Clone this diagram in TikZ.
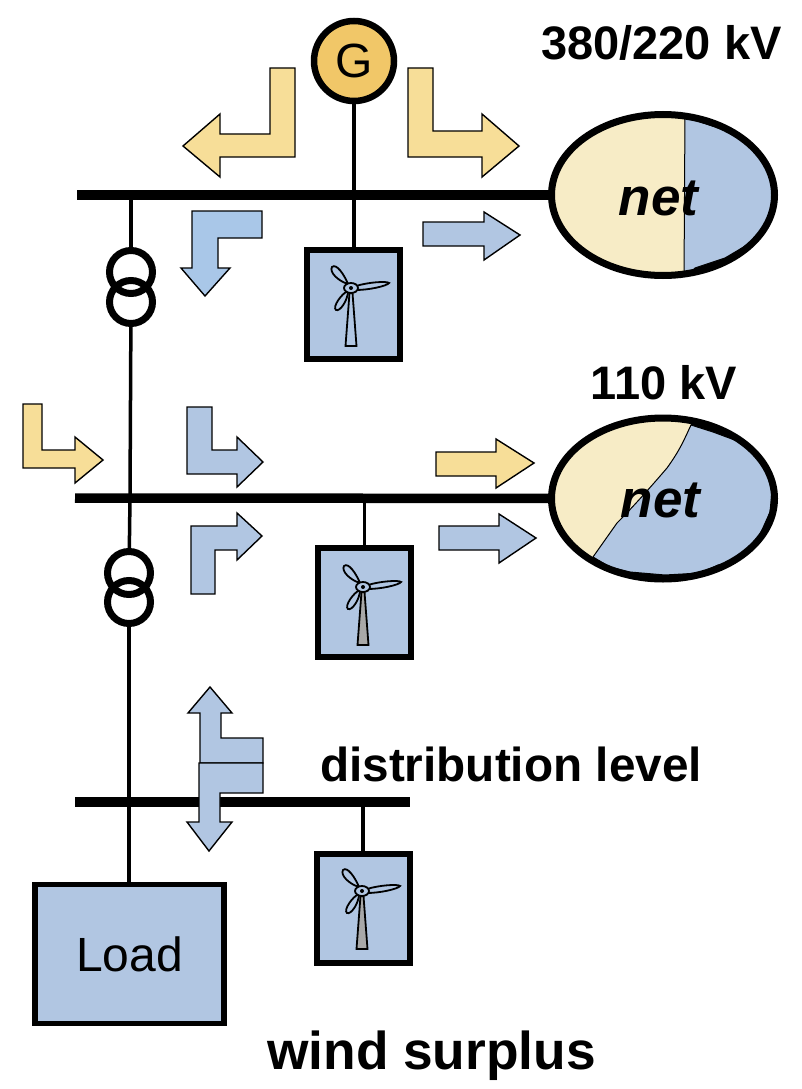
\documentclass[tikz,border=0pt]{standalone}
\usepackage{fontspec}
\setmainfont{Liberation Sans}
\usetikzlibrary{shapes.geometric}

\definecolor{netblue}{HTML}{B1C6E2}
\definecolor{skyblue}{HTML}{A9C7E8}
\definecolor{flowyellow}{HTML}{F7DE98}
\definecolor{netyellow}{HTML}{F7ECC6}
\definecolor{gengold}{HTML}{F1C768}
\definecolor{towergray}{HTML}{A8A8A8}

\tikzset{
 turbine/.pic={
  \draw[line width=1.8pt,fill=#1] (-5.5,58) -- (-1.5,5) -- (1.5,5) -- (5.5,58) -- cycle;
  \draw[line width=1.8pt] (-3,-4) .. controls (-13,-7) and (-22,-16) .. (-19,-21)
   .. controls (-15,-25) and (-7,-14) .. (-3,-4);
  \draw[line width=1.8pt] (5,-2) .. controls (18,-6) and (36,-7) .. (38,-5)
   .. controls (36,-2) and (18,2) .. (5,2) -- cycle;
  \draw[line width=1.8pt] (-3,3) .. controls (-9,5) and (-19,19) .. (-15,22)
   .. controls (-11,24) and (-3,12) .. (-3,3);
  \draw[line width=1.8pt,fill=netblue] (0,0) ellipse (7 and 5);
  \fill (0,0) circle (2);
 }
}

\begin{document}
\begin{tikzpicture}[
 x=1pt,y=-1pt,
 every node/.style={font=\fontsize{48pt}{48pt}\selectfont},
 bus/.style={line width=9.5pt},
 wire/.style={line width=3.5pt},
 flow/.style={draw=black,line width=1.4pt,line join=miter},
 title/.style={font=\fontsize{47pt}{47pt}\selectfont\bfseries,inner sep=0pt},
 netlabel/.style={font=\fontsize{53pt}{53pt}\selectfont\bfseries\itshape,inner sep=0pt},
 netshape/.style={draw,ellipse,line width=7pt,minimum width=223pt,minimum height=161pt,inner sep=0pt},
 windbox/.style={draw,fill=netblue,line width=6pt,minimum width=93pt,minimum height=109pt,inner sep=0pt},
 trafo/.style={draw,circle,line width=7pt,minimum size=43pt,inner sep=0pt}
]
 \useasboundingbox (0,0) rectangle (802,1089);

 % upper net, split almost in the middle
 \begin{scope}
  \clip (663,195) ellipse (111.5 and 80.5);
  \fill[netyellow] (540,100) rectangle (790,290);
  \fill[black] (685,110) -- (790,110) -- (790,280) -- (684,280) -- cycle;
  \draw[fill=netblue,line width=1pt]
   (685,110) -- (700,122) -- (740,135) -- (772,170) -- (772,225) -- (752,242)
   -- (725,258) -- (695,268) -- (684,280) -- cycle;
 \end{scope}

 % lower net, blue part is larger and has a rough edge
 \begin{scope}
  \clip (663,498.5) ellipse (111.5 and 80);
  \fill[netyellow] (540,400) rectangle (790,590);
  \fill[black] (691,425) -- (691,400) -- (790,400) -- (790,590) -- (590,590) -- (593,557) -- (617,523)
   .. controls (635,505) and (655,482) .. (667,468)
   .. controls (680,450) and (684,440) .. (691,425) -- cycle;
  \draw[fill=netblue,line width=1pt]
   (691,425) .. controls (684,440) and (680,450) .. (667,468)
   .. controls (655,482) and (635,505) .. (617,523) -- (593,557)
   -- (610,567) -- (630,572) -- (665,575) -- (700,573) -- (718,565)
   -- (735,561) -- (753,550) -- (770,512) -- (773,480) -- (757,457)
   -- (740,442) -- (713,432) -- cycle;
 \end{scope}

 \node[netshape] (netA) at (663,195) {};
 \node[netshape] (netB) at (663,498.5) {};
 \node[netlabel] (netAtext) at (658.5,198) {net};
 \node[netlabel] (netBtext) at (660.5,500) {net};

 \node[draw,circle,fill=gengold,line width=6.5pt,minimum size=80pt,inner sep=0pt] (genG) at (354,61) {G};

 \coordinate (busAwest) at (77,195);
 \coordinate (busBwest) at (75,498);
 \coordinate (busCwest) at (75,802);
 \coordinate (busCeast) at (410,802);
 \coordinate (tapA) at (131,195);
 \coordinate (tapB) at (130,498);
 \coordinate (tapC) at (129,802);

 \node[trafo] (trafoAup) at (131,272) {};
 \node[trafo] (trafoAlow) at (131,302) {};
 \node[trafo] (trafoBup) at (129,573) {};
 \node[trafo] (trafoBlow) at (129,602) {};

 \node[windbox] (windA) at (353,304) {};
 \node[windbox] (windB) at (364.5,602.5) {};
 \node[windbox] (windC) at (363,908) {};
 \pic at (351,288) {turbine=netblue};
 \pic at (363,587) {turbine=towergray};
 \pic at (362,891) {turbine=towergray};

 \node[draw,fill=netblue,line width=5.5pt,minimum width=189pt,minimum height=139pt,inner sep=0pt] (load) at (129.5,954) {\raisebox{-2pt}{Load}};

 \draw[bus] (busAwest) -- (netA);
 \draw[bus] (busBwest) -- (netB);
 \draw[bus] (busCwest) -- (busCeast);

 \draw[wire] (genG) -- (windA.north -| genG);
 \draw[wire] (tapA) -- (trafoAup);
 \draw[wire] (trafoAlow) -- (tapB);
 \draw[wire] (tapB) -- (trafoBup);
 \draw[wire] (trafoBlow) -- (tapC);
 \draw[wire] (tapC) -- (load.north -| tapC);
 \draw[wire] (windB.north) -- (windB.north |- busBwest);
 \draw[wire] (windC.north) -- (windC.north |- busCwest);

 % power flows
 \draw[flow,fill=flowyellow] (270,68) -- (295,68) -- (295,157) -- (220,157) -- (220,177)
  -- (183,146) -- (220,114) -- (220,134) -- (270,134) -- cycle;
 \draw[flow,fill=flowyellow] (408,68) -- (433,68) -- (433,131) -- (482,131) -- (482,114)
  -- (519,146) -- (482,177) -- (482,157) -- (408,157) -- cycle;
 \draw[flow,fill=skyblue] (262,211) -- (262,238) -- (218,238) -- (218,268) -- (230,268)
  -- (205,296) -- (181,268) -- (192,268) -- (192,211) -- cycle;
 \draw[flow,fill=netblue] (423,222) -- (484,222) -- (484,212) -- (520,235) -- (484,260)
  -- (484,246) -- (423,246) -- cycle;

 \draw[flow,fill=flowyellow] (23,404) -- (42,404) -- (42,450) -- (75,450) -- (75,437)
  -- (103,460) -- (75,483) -- (75,468) -- (23,468) -- cycle;
 \draw[flow,fill=netblue] (187,407) -- (212,407) -- (212,450) -- (237,450) -- (237,437)
  -- (263,462) -- (237,487) -- (237,474) -- (187,474) -- cycle;
 \draw[flow,fill=flowyellow] (436,452) -- (496,452) -- (496,439) -- (534,463) -- (496,488)
  -- (496,476) -- (436,476) -- cycle;
 \draw[flow,fill=netblue] (439,526) -- (499,526) -- (499,514) -- (536,538) -- (499,563)
  -- (499,550) -- (439,550) -- cycle;
 \draw[flow,fill=netblue] (191,594) -- (191,526) -- (237,526) -- (237,513) -- (262,536)
  -- (237,560) -- (237,550) -- (215,550) -- (215,594) -- cycle;

 \draw[flow,fill=netblue] (210,687) -- (232,713) -- (221,713) -- (221,738) -- (263,738)
  -- (263,763) -- (200,763) -- (200,713) -- (188,713) -- cycle;
 \draw[flow,fill=netblue] (199,763) -- (263,763) -- (263,793) -- (220,793) -- (220,822)
  -- (232,822) -- (209,851) -- (187,822) -- (199,822) -- cycle;

 \node[title,anchor=base west] (levelA) at (541,60) {380/220 kV};
 \node[title,anchor=base] (levelB) at (664,399) {110 kV};
 \node[title,font=\fontsize{47.7pt}{47.7pt}\selectfont\bfseries,anchor=base] (levelC) at (511,781) {distribution level};
 \node[title,font=\fontsize{53.3pt}{53.3pt}\selectfont\bfseries,anchor=base] (caption) at (431.5,1069) {wind surplus};
\end{tikzpicture}
\end{document}
